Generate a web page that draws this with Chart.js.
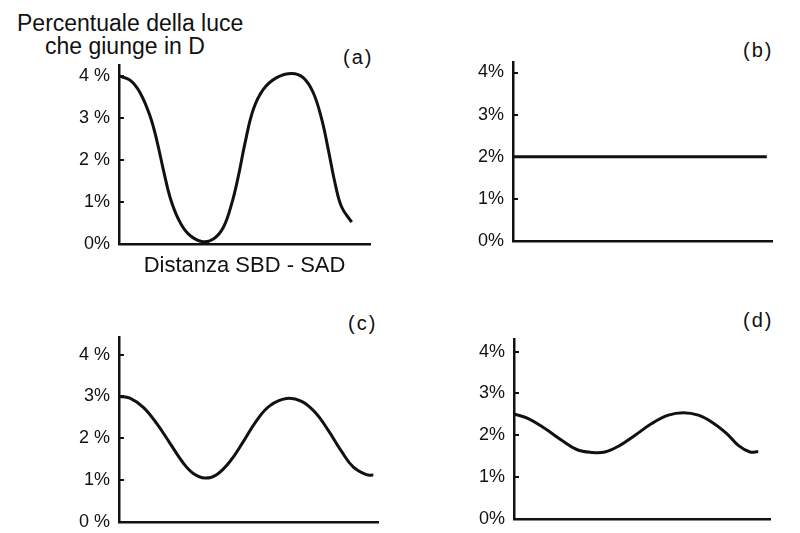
<!DOCTYPE html>
<html>
<head>
<meta charset="utf-8">
<script src="https://cdn.jsdelivr.net/npm/chart.js@4.4.0/dist/chart.umd.min.js"></script>
<style>
  body { margin: 0; background: #fff; }
  #wrap { position: relative; width: 800px; height: 533px; overflow: hidden; font-family: "Liberation Sans", Arial, sans-serif; color: #111; }
  canvas { position: absolute; }
  .txt { position: absolute; white-space: nowrap; line-height: 1; }
  .lbl { font-size: 20px; letter-spacing: 2px; }
</style>
</head>
<body>
<div id="wrap">
  <div class="txt" style="left:17px; top:12px; font-size:23px;">Percentuale della luce</div>
  <div class="txt" style="left:45px; top:35px; font-size:23px;">che giunge in D</div>
  <div class="txt lbl" style="left:343px; top:47px;">(a)</div>
  <div class="txt lbl" style="left:743px; top:40px;">(b)</div>
  <div class="txt lbl" style="left:348px; top:313px;">(c)</div>
  <div class="txt lbl" style="left:743px; top:310px;">(d)</div>
  <canvas id="chartA" width="400" height="225" style="left:0; top:55px;"></canvas>
  <canvas id="chartB" width="400" height="225" style="left:400px; top:55px;"></canvas>
  <canvas id="chartC" width="400" height="233" style="left:0; top:300px;"></canvas>
  <canvas id="chartD" width="400" height="233" style="left:400px; top:300px;"></canvas>
</div>
<script>
// values (x = position along the axis, 0..100)
const tickValues = [0, 1, 2, 3, 4];
const ticksA = ['0%', '1%', '2 %', '3 %', '4 %'];
const ticksB = ['0%', '1%', '2%', '3%', '4%'];
const ticksC = ['0 %', '1%', '2 %', '3%', '4 %'];
const ticksD = ['0%', '1%', '2%', '3%', '4%'];

const xA = [0, 4.4, 8.4, 12.4, 15.0, 17.7, 20.3, 23.6, 27.6, 32.9, 37.6, 41.6, 44.9, 47.5, 50.2, 53.5, 57.5, 62.8, 68.8, 73.4, 77.4, 80.8, 83.4, 86.1, 88.7, 92.7];
const yA = [4.0, 3.90, 3.60, 3.04, 2.48, 1.76, 1.12, 0.60, 0.24, 0.06, 0.12, 0.40, 0.96, 1.60, 2.40, 3.20, 3.68, 3.96, 4.06, 3.96, 3.60, 2.96, 2.24, 1.44, 0.88, 0.52];

const xB = [0, 98];
const yB = [2.0, 2.0];

const xC = [0, 4.2, 9.4, 14.6, 19.7, 24.8, 28.7, 33.2, 37.7, 42.9, 48.0, 53.2, 58.3, 64.7, 70.5, 75.7, 80.8, 86.0, 90.5, 95.6, 98.2];
const yC = [3.0, 2.96, 2.74, 2.35, 1.88, 1.41, 1.16, 1.05, 1.13, 1.45, 1.92, 2.43, 2.78, 2.95, 2.88, 2.62, 2.19, 1.68, 1.31, 1.13, 1.12];

const xD = [0, 5.6, 12.1, 18.6, 24.5, 30.3, 35.5, 41.4, 47.3, 53.8, 60.3, 66.1, 72.0, 77.9, 83.1, 87.6, 92.2, 95.4];
const yD = [2.51, 2.40, 2.16, 1.88, 1.66, 1.59, 1.60, 1.76, 2.00, 2.28, 2.48, 2.54, 2.48, 2.29, 2.04, 1.76, 1.60, 1.61];

const ink = '#111';
const family = '"Liberation Sans", Arial, sans-serif';

function makePanel(id, xs, ys, labels, yMax, pad, yWidth, xHeight, xTitle) {
    const ctx = document.getElementById(id).getContext('2d');
    return new Chart(ctx, {
        type: 'line',
        data: {
            datasets: [{
                data: xs.map((x, i) => ({ x: x, y: ys[i] })),
                borderColor: ink,
                borderWidth: 3,
                pointRadius: 0,
                tension: 0.4,
                fill: false
            }]
        },
        options: {
            responsive: false,
            animation: false,
            devicePixelRatio: 1,
            layout: { padding: pad },
            plugins: { legend: { display: false }, tooltip: { enabled: false } },
            scales: {
                x: {
                    type: 'linear',
                    min: 0,
                    max: 100,
                    afterFit: s => { s.height = xHeight; s.paddingLeft = 0; s.paddingRight = 0; },
                    border: { color: ink, width: 2.5 },
                    grid: { display: false },
                    ticks: { display: false },
                    title: {
                        display: !!xTitle,
                        text: xTitle || '',
                        color: ink,
                        font: { size: 22, family: family },
                        padding: { top: 2, bottom: 1 }
                    }
                },
                y: {
                    type: 'linear',
                    min: 0,
                    max: yMax,
                    afterBuildTicks: s => { s.ticks = tickValues.map(v => ({ value: v })); },
                    afterFit: s => { s.width = yWidth; s.paddingTop = 0; s.paddingBottom = 0; },
                    border: { color: ink, width: 2.5 },
                    // short tick stubs pointing into the plot
                    grid: { drawOnChartArea: false, tickLength: -5, color: ink, lineWidth: 2 },
                    ticks: {
                        color: ink,
                        padding: 14,
                        font: { size: 18, family: family },
                        callback: v => labels[tickValues.indexOf(v)]
                    }
                }
            }
        }
    });
}

makePanel('chartA', xA, yA, ticksA, 4.26, { top: 10, right: 30, bottom: 0, left: 0 }, 119, 36, 'Distanza SBD - SAD');
makePanel('chartB', xB, yB, ticksB, 4.25, { top: 7, right: 28, bottom: 0, left: 0 }, 113, 39);
makePanel('chartC', xC, yC, ticksC, 4.42, { top: 37, right: 22, bottom: 0, left: 0 }, 119, 11);
makePanel('chartD', xD, yD, ticksD, 4.30, { top: 39, right: 30, bottom: 0, left: 0 }, 114, 14);
</script>
</body>
</html>
